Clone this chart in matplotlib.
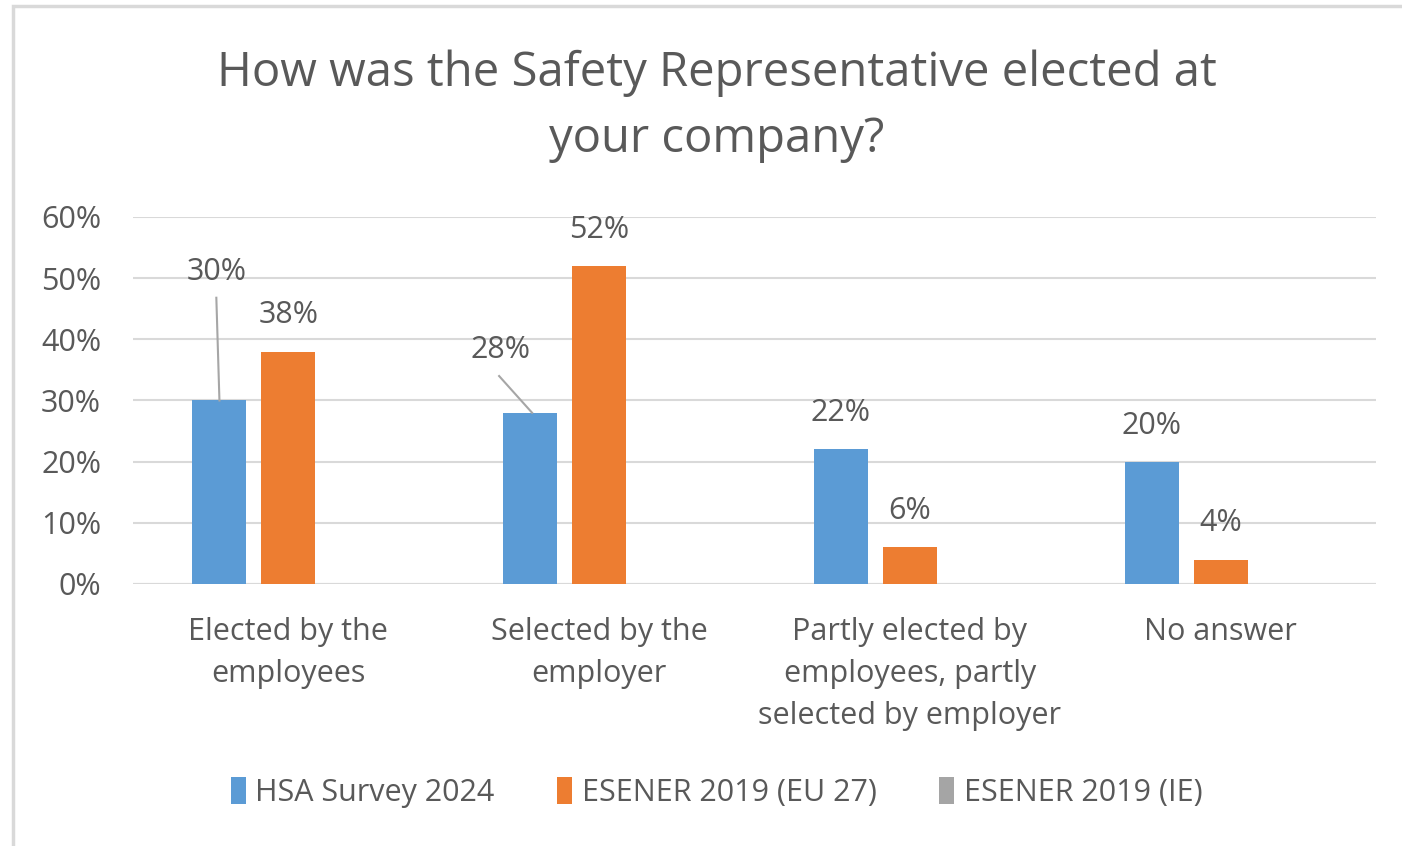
import numpy as np
import matplotlib.pyplot as plt
from matplotlib.patches import Rectangle

plt.rcParams['font.family'] = ['Open Sans', 'DejaVu Sans']

categories = ["Elected by the\nemployees", "Selected by the\nemployer",
              "Partly elected by\nemployees, partly\nselected by employer", "No answer"]
series_names = ["HSA Survey 2024", "ESENER 2019 (EU 27)", "ESENER 2019 (IE)"]
hsa_2024 = [30, 28, 22, 20]
esener_eu27 = [38, 52, 6, 4]
esener_ie = [np.nan, np.nan, np.nan, np.nan]
y_ticks = [0, 10, 20, 30, 40, 50, 60]

colors = ["#5B9BD5", "#ED7D31", "#A5A5A5"]
text_col = "#595959"
grid_col = "#D9D9D9"

fig = plt.figure(figsize=(14.02, 8.46), dpi=100)
ax = fig.add_axes([0.0949, 0.3097, 0.8866, 0.4338])

# light frame around the chart area (only top and left edges show)
fig.patches.append(Rectangle((0.0093, -0.05), 1.05, 1.043, transform=fig.transFigure,
                             fill=False, edgecolor="#D9D9D9", linewidth=2.5))

x = np.arange(len(categories))
width = 0.174
step = 0.222
all_series = [hsa_2024, esener_eu27, esener_ie]
for i, (vals, name, col) in enumerate(zip(all_series, series_names, colors)):
    ax.bar(x + (i - 1) * step, vals, width, color=col, label=name, zorder=2)

# value labels; the first two blue labels are pulled away with leader lines
moved = {0: (-0.01, 51.0), 1: (-0.097, 38.3)}
for i, vals in enumerate(all_series):
    for j, v in enumerate(vals):
        if np.isnan(v):
            continue
        bx = x[j] + (i - 1) * step
        if i == 0 and j in moved:
            dx, ly = moved[j]
            ax.text(bx + dx, ly, f"{v:.0f}%", ha="center", va="center",
                    fontsize=22, color=text_col)
            if j == 0:
                ax.plot([bx - 0.01, bx], [ly - 4.2, v], color="#A6A6A6", lw=1.5, zorder=3)
            else:
                ax.plot([bx - 0.1, bx + 0.006], [ly - 4.3, v], color="#A6A6A6", lw=1.5, zorder=3)
        else:
            ax.text(bx, v + 5.9, f"{v:.0f}%", ha="center", va="center",
                    fontsize=22, color=text_col)

ax.set_xlim(-0.5, len(categories) - 0.5)
ax.set_ylim(0, 60)
ax.set_yticks(y_ticks)
ax.set_yticklabels([f"{t}%" for t in y_ticks])
ax.set_xticks(x)
ax.set_xticklabels(categories, linespacing=1.52)
ax.tick_params(axis="both", length=0, colors=text_col, labelsize=22)
ax.tick_params(axis="y", pad=23)
ax.tick_params(axis="x", pad=24)
for lbl in ax.get_xticklabels():
    lbl.set_verticalalignment("top")

ax.grid(axis="y", color=grid_col, linewidth=1.5, zorder=0)
for s in ax.spines.values():
    s.set_visible(False)
ax.axhline(0, color=grid_col, linewidth=1.5, zorder=1)

fig.text(0.5114, 0.8745, "How was the Safety Representative elected at\nyour company?",
         ha="center", va="center", fontsize=34, color=text_col, linespacing=1.5)

fig.legend(loc="center", bbox_to_anchor=(0.511, 0.063), ncol=3, frameon=False,
           fontsize=22, handlelength=0.5, handleheight=0.95, handletextpad=0.3,
           columnspacing=2.05, labelcolor=text_col)

fig.savefig("out.png", dpi=100)
